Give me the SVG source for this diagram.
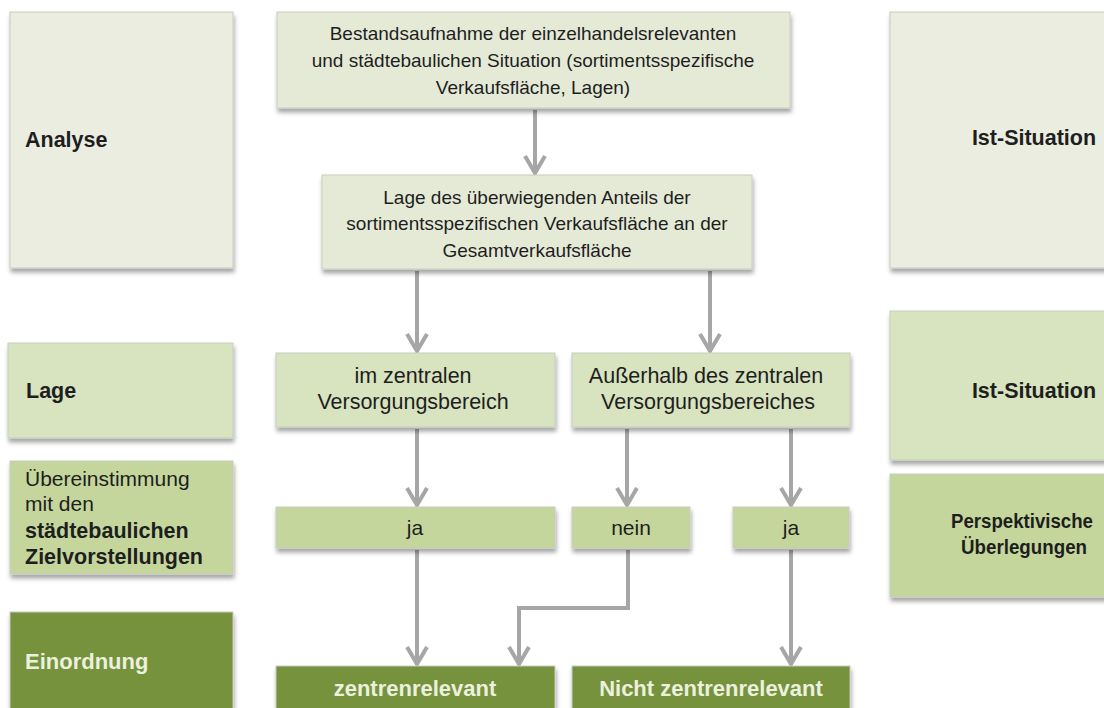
<svg xmlns="http://www.w3.org/2000/svg" width="1104" height="708" viewBox="0 0 1104 708">
<style>
.b{stroke:#c9cbc2;stroke-width:1;filter:url(#sh)}
.c1{fill:#eaeddf}
.c0{fill:#e5ead7}
.c2{fill:#d8e3bf}
.c3{fill:#c4d69c}
.c4{fill:#76923c}
.lbl{font-family:"Liberation Sans",Arial,sans-serif;font-size:21.5px;font-weight:bold;fill:#1e1e1e}
.reg{font-family:"Liberation Sans",Arial,sans-serif;font-size:21px;fill:#1e1e1e}
.body{font-family:"Liberation Sans",Arial,sans-serif;font-size:19px;fill:#1e1e1e;text-anchor:middle}
.body2{font-family:"Liberation Sans",Arial,sans-serif;font-size:21.5px;fill:#1e1e1e;text-anchor:middle}
.light{font-family:"Liberation Sans",Arial,sans-serif;font-size:22px;font-weight:bold;fill:#ebf1de}
.mid{text-anchor:middle}
.sm{font-size:19.5px}
.con{fill:none;stroke:#a6a6a6;stroke-width:4;marker-end:url(#ah)}
</style>
<defs>
<filter id="sh" x="-10%" y="-10%" width="125%" height="135%">
<feDropShadow dx="1" dy="4" stdDeviation="2" flood-color="#000" flood-opacity="0.35"/>
</filter>
<marker id="ah" markerUnits="userSpaceOnUse" viewBox="-22 -14 26 28" refX="0" refY="0" markerWidth="26" markerHeight="28" orient="auto" overflow="visible">
<path d="M -17,-10 L 0,0 L -17,10" fill="none" stroke="#a6a6a6" stroke-width="4"/>
</marker>
</defs>
<rect width="1104" height="708" fill="#ffffff"/>

<g id="connectors">
<path class="con" d="M535,110 V173"/>
<path class="con" d="M417,271 V351"/>
<path class="con" d="M710,271 V351"/>
<path class="con" d="M417,429 V505"/>
<path class="con" d="M627,429 V505"/>
<path class="con" d="M791,429 V505"/>
<path class="con" d="M417,550 V664"/>
<path class="con" d="M628,550 V608 H519 V664"/>
<path class="con" d="M791,550 V664"/>
</g>

<g id="n-analyse"><rect class="b c1" x="10" y="12" width="223" height="256"/><text class="lbl" x="25" y="147">Analyse</text></g>
<g id="n-lage"><rect class="b c2" x="8" y="343" width="225" height="95"/><text class="lbl" x="26" y="398">Lage</text></g>
<g id="n-uebereinstimmung"><rect class="b c3" x="10" y="461" width="223" height="113"/>
<text class="reg" x="25" y="486">Übereinstimmung</text>
<text class="reg" x="25" y="511">mit den</text>
<text class="lbl" x="25" y="538">städtebaulichen</text>
<text class="lbl" x="25" y="564">Zielvorstellungen</text></g>
<g id="n-einordnung"><rect class="b c4" x="10" y="612" width="223" height="104"/><text class="light" x="25" y="669">Einordnung</text></g>

<g id="n-bestand"><rect class="b c0" x="277" y="12" width="513" height="96"/>
<text class="body" x="533" y="40">Bestandsaufnahme der einzelhandelsrelevanten</text>
<text class="body" x="533" y="67">und städtebaulichen Situation (sortimentsspezifische</text>
<text class="body" x="533" y="94">Verkaufsfläche, Lagen)</text></g>
<g id="n-lagedes"><rect class="b c0" x="322" y="175" width="430" height="94"/>
<text class="body" x="537" y="204">Lage des überwiegenden Anteils der</text>
<text class="body" x="537" y="230">sortimentsspezifischen Verkaufsfläche an der</text>
<text class="body" x="537" y="257">Gesamtverkaufsfläche</text></g>
<g id="n-imzentral"><rect class="b c2" x="276" y="353" width="279" height="74"/>
<text class="body2" x="413" y="383">im zentralen</text>
<text class="body2" x="413" y="409">Versorgungsbereich</text></g>
<g id="n-ausserhalb"><rect class="b c2" x="572" y="353" width="278" height="74"/>
<text class="body2" x="706" y="383">Außerhalb des zentralen</text>
<text class="body2" x="708" y="409">Versorgungsbereiches</text></g>
<g id="n-ja1"><rect class="b c3" x="276" y="507" width="279" height="41"/><text class="body2" x="415" y="535" style="font-size:21px">ja</text></g>
<g id="n-nein"><rect class="b c3" x="572" y="507" width="118" height="41"/><text class="body2" x="631" y="535" style="font-size:21px">nein</text></g>
<g id="n-ja2"><rect class="b c3" x="733" y="507" width="116" height="41"/><text class="body2" x="791" y="535" style="font-size:21px">ja</text></g>
<g id="n-zentrenrelevant"><rect class="b c4" x="276" y="666" width="279" height="50"/><text class="light mid" x="415" y="696">zentrenrelevant</text></g>
<g id="n-nicht"><rect class="b c4" x="572" y="666" width="278" height="50"/><text class="light mid" x="711" y="696">Nicht zentrenrelevant</text></g>

<g id="n-ist1"><rect class="b c1" x="890" y="12" width="222" height="256"/><text class="lbl mid" x="1034" y="145">Ist-Situation</text></g>
<g id="n-ist2"><rect class="b c2" x="890" y="311" width="222" height="149"/><text class="lbl mid" x="1034" y="398">Ist-Situation</text></g>
<g id="n-persp"><rect class="b c3" x="890" y="474" width="222" height="123"/>
<text class="lbl mid sm" x="1022" y="528" textLength="142" lengthAdjust="spacingAndGlyphs">Perspektivische</text>
<text class="lbl mid sm" x="1024" y="554" textLength="126" lengthAdjust="spacingAndGlyphs">Überlegungen</text></g>
</svg>
